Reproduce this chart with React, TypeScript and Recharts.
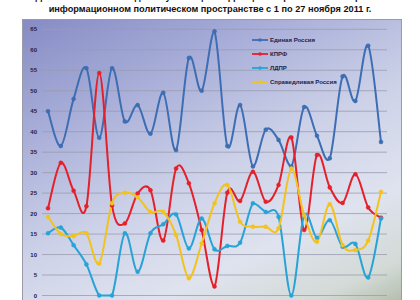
import { LineChart, Line, XAxis, YAxis, CartesianGrid } from 'recharts';

const days = Array.from({ length: 27 }, (_, i) => `${i + 1}.11`);

const edinayaRossiya = [45, 36.5, 48, 55.5, 38.5, 55.5, 42.5, 46.5, 39.5, 49.5, 35.5, 58, 50, 64.5, 36.5, 46.5, 31.5, 40.5, 38, 31.5, 46, 39, 33.5, 53.5, 47.5, 61, 37.5];
const kprf = [21.3, 32.4, 25.6, 21.8, 54.3, 22, 17.6, 24.9, 25.7, 13.4, 31, 27.4, 16, 2.2, 25.1, 23.1, 30.2, 22.9, 27, 38.6, 16, 34.3, 26.4, 22.6, 29.6, 21.5, 19];
const ldpr = [15.2, 16.6, 12.3, 7.6, 0, 0, 15.2, 5.8, 15.2, 17.4, 19.8, 11.5, 18.8, 11.3, 12.1, 12.9, 22.5, 20.4, 19.2, 0, 19.6, 14.1, 18.4, 11.9, 12.6, 4.4, 18.8];
const spravRossiya = [19.2, 15, 14.5, 15.2, 7.8, 22.5, 25.1, 24, 20.4, 20.4, 14.8, 4.2, 12.7, 22.5, 27, 18, 16.8, 16.8, 16.4, 31, 19.6, 13.1, 22.3, 12.3, 11.1, 13.4, 25.3];

const yTicks = [0, 5, 10, 15, 20, 25, 30, 35, 40, 45, 50, 55, 60, 65];

const series = [
    { key: 'er', name: 'Единая Россия', color: '#3d6db3' },
    { key: 'kprf', name: 'КПРФ', color: '#e5202b' },
    { key: 'ldpr', name: 'ЛДПР', color: '#27a3d6' },
    { key: 'sr', name: 'Справедливая Россия', color: '#f3c21c' },
];

const data = days.map((d, i) => ({
    day: d,
    er: edinayaRossiya[i],
    kprf: kprf[i],
    ldpr: ldpr[i],
    sr: spravRossiya[i],
}));

// Excel-like smoothing (Catmull-Rom), control points kept inside the series' range
const smooth: any = (context: any) => {
    let pts: number[][] = [];
    return {
        areaStart() {},
        areaEnd() {},
        lineStart() {
            pts = [];
        },
        point(x: number, y: number) {
            pts.push([+x, +y]);
        },
        lineEnd() {
            if (!pts.length) return;
            const ys = pts.map((p) => p[1]);
            const lo = Math.min(...ys);
            const hi = Math.max(...ys);
            const cl = (v: number) => Math.max(lo, Math.min(hi, v));
            context.moveTo(pts[0][0], pts[0][1]);
            for (let i = 0; i < pts.length - 1; i++) {
                const p0 = pts[i - 1] || pts[i];
                const p1 = pts[i];
                const p2 = pts[i + 1];
                const p3 = pts[i + 2] || p2;
                context.bezierCurveTo(
                    p1[0] + (p2[0] - p0[0]) / 6,
                    cl(p1[1] + (p2[1] - p0[1]) / 6),
                    p2[0] - (p3[0] - p1[0]) / 6,
                    cl(p2[1] - (p3[1] - p1[1]) / 6),
                    p2[0],
                    p2[1],
                );
            }
        },
    };
};

function LegendBox() {
    return (
        <div
            style={{
                position: 'absolute',
                left: 252,
                top: 33.5,
                fontFamily: 'Arial, "Liberation Sans", sans-serif',
                fontSize: 6,
                fontWeight: 'bold',
                color: '#1d2148',
            }}
        >
            {series.map((s) => (
                <div key={s.key} style={{ display: 'flex', alignItems: 'center', height: 13.8 }}>
                    <svg width={16} height={6} style={{ marginRight: 2 }}>
                        <line x1={0} y1={3} x2={16} y2={3} stroke={s.color} strokeWidth={1.8} />
                        <circle cx={8} cy={3} r={1.8} fill={s.color} />
                    </svg>
                    <span>{s.name}</span>
                </div>
            ))}
        </div>
    );
}

export default function App() {
    return (
        <div style={{ position: 'absolute', left: 0, top: 0, width: 420, height: 320, background: '#fff', overflow: 'hidden' }}>
            <div
                style={{
                    position: 'absolute',
                    left: 0,
                    top: -9,
                    width: 420,
                    textAlign: 'center',
                    fontFamily: 'Arial, "Liberation Sans", sans-serif',
                    fontWeight: 'bold',
                    fontSize: 9.2,
                    lineHeight: '12px',
                    color: '#111',
                }}
            >
                <div>Динамика изменения доли публикаций о фракциях парламентских партий в</div>
                <div>информационном политическом пространстве с 1 по 27 ноября 2011 г.</div>
            </div>
            <div
                style={{
                    position: 'absolute',
                    left: 22,
                    top: 19,
                    width: 380,
                    height: 300,
                    border: '1px solid #9a9aa8',
                    boxSizing: 'border-box',
                    background:
                        'linear-gradient(155deg, #868cc4 0%, #a8aed8 25%, #ccd1e8 50%, #dfe3ef 72%, #d3dad6 88%, #a5b39c 100%)',
                }}
            />
            <div style={{ position: 'absolute', left: 0, top: 0 }}>
                <LineChart width={420} height={320} data={data} margin={{ top: 29.3, right: 33, left: 22, bottom: 4.5 }}>
                    <CartesianGrid vertical={false} stroke="#9a9cae" strokeWidth={0.8} />
                    <XAxis
                        dataKey="day"
                        padding={{ left: 6, right: 6 }}
                        interval={0}
                        axisLine={false}
                        tickLine={false}
                        tick={{ fontSize: 5, fill: '#1d2148', fontFamily: 'Arial, sans-serif' }}
                        height={20}
                    />
                    <YAxis
                        domain={[0, 65]}
                        ticks={yTicks}
                        interval={0}
                        width={20}
                        axisLine={false}
                        tickLine={false}
                        tickSize={3}
                        tick={{ fontSize: 6, fontWeight: 'bold', fill: '#1d2148', fontFamily: 'Arial, sans-serif' }}
                    />
                    {series.map((s) => (
                        <Line
                            key={s.key}
                            dataKey={s.key}
                            name={s.name}
                            type={smooth}
                            stroke={s.color}
                            strokeWidth={2}
                            dot={{ r: 2, fill: s.color, stroke: s.color, strokeWidth: 0.5 }}
                            isAnimationActive={false}
                        />
                    ))}
                </LineChart>
            </div>
            <LegendBox />
        </div>
    );
}
